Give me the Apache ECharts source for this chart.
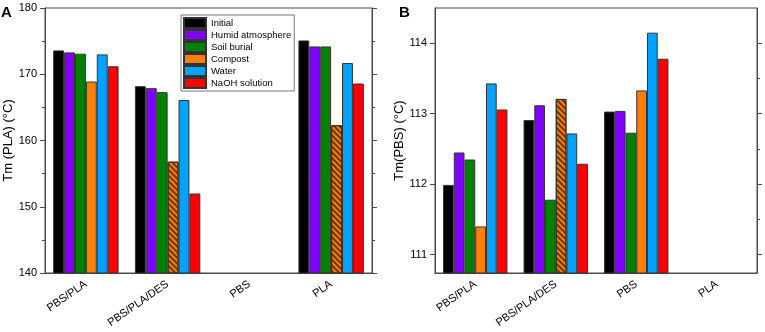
<!DOCTYPE html>
<html>
<head>
<meta charset="utf-8">
<script src="https://cdn.jsdelivr.net/npm/echarts@6/dist/echarts.min.js"></script>
<style>
  html, body { margin: 0; padding: 0; background: #fff; }
  #chart { width: 765px; height: 332px; }
</style>
</head>
<body>
<div id="chart"></div>
<script>
const categories = ['PBS/PLA', 'PBS/PLA/DES', 'PBS', 'PLA'];
const conditions = ['Initial', 'Humid atmosphere', 'Soil burial', 'Compost', 'Water', 'NaOH solution'];

// Panel A: Tm (PLA), one array per condition, in category order
const plaInitial = [173.6, 168.2, null, 175.1];
const plaHumid   = [173.3, 167.9, null, 174.2];
const plaSoil    = [173.1, 167.3, null, 174.2];
const plaCompost = [168.9, 156.8, null, 162.3];
const plaWater   = [173.0, 166.1, null, 171.7];
const plaNaOH    = [171.2, 152.0, null, 168.6];

// Panel B: Tm (PBS)
const pbsInitial = [111.99, 112.91, 113.03, null];
const pbsHumid   = [112.45, 113.12, 113.04, null];
const pbsSoil    = [112.35, 111.78, 112.73, null];
const pbsCompost = [111.40, 113.21, 113.33, null];
const pbsWater   = [113.43, 112.72, 114.15, null];
const pbsNaOH    = [113.06, 112.29, 113.78, null];

// compost bars drawn hatched
const hatchedA = ['PBS/PLA/DES', 'PLA'];
const hatchedB = ['PBS/PLA/DES'];

const ticksA = [140, 150, 160, 170, 180];
const ticksBMajor = [111, 112, 113, 114];
const ticksBMinor = [111.5, 112.5, 113.5];

const colors = ['#000000', '#8000ff', '#008000', '#ff8000', '#00a2ff', '#ff0000'];
const font = 'Liberation Sans, Arial, sans-serif';
const axisColor = '#4a4a4a';

const hatch = {
  symbol: 'rect',
  symbolSize: 1,
  dashArrayX: [1, 0],
  dashArrayY: [2, 2],
  rotation: Math.PI / 4,
  color: 'rgba(70, 35, 0, 0.8)'
};

function barData(values, hatched) {
  return values.map((v, i) => {
    if (hatched && hatched.indexOf(categories[i]) >= 0) {
      return { value: v, itemStyle: { decal: hatch } };
    }
    return v;
  });
}

const seriesA = [plaInitial, plaHumid, plaSoil, plaCompost, plaWater, plaNaOH];
const seriesB = [pbsInitial, pbsHumid, pbsSoil, pbsCompost, pbsWater, pbsNaOH];

const grids = [
  { left: 45, right: 393, top: 8, bottom: 59 },
  { left: 435, right: 8, top: 8, bottom: 59 }
];

function xAxis(gi) {
  return {
    type: 'category', gridIndex: gi, data: categories,
    axisLine: { lineStyle: { color: axisColor, width: 1 } },
    axisTick: { show: false },
    axisLabel: { interval: 0, rotate: 35, fontSize: 11, fontFamily: font, color: '#000', margin: 10 }
  };
}

const yAxes = [
  // A left
  {
    type: 'value', gridIndex: 0, min: 140, max: 180, interval: 10,
    name: 'Tm (PLA) (°C)', nameLocation: 'middle', nameGap: 25,
    nameTextStyle: { fontSize: 13, fontFamily: font, color: '#000' },
    axisLine: { show: true, lineStyle: { color: axisColor } },
    axisTick: { show: true, length: 5, lineStyle: { color: axisColor } },
    minorTick: { show: true, splitNumber: 2, length: 3, lineStyle: { color: axisColor } },
    axisLabel: { fontSize: 11, fontFamily: font, color: '#000', margin: 8,
      customValues: ticksA },
    splitLine: { show: false }
  },
  // A right
  {
    type: 'value', gridIndex: 0, min: 140, max: 180, interval: 10, position: 'right',
    axisLine: { show: true, lineStyle: { color: axisColor } },
    axisTick: { show: true, length: 5, lineStyle: { color: axisColor } },
    minorTick: { show: true, splitNumber: 2, length: 3, lineStyle: { color: axisColor } },
    axisLabel: { show: false },
    splitLine: { show: false }
  },
  // B left major
  {
    type: 'value', gridIndex: 1, min: 110.74, max: 114.5,
    name: 'Tm(PBS) (°C)', nameLocation: 'middle', nameGap: 29,
    nameTextStyle: { fontSize: 13, fontFamily: font, color: '#000' },
    axisLine: { show: true, lineStyle: { color: axisColor } },
    axisTick: { show: true, length: 5, customValues: ticksBMajor, lineStyle: { color: axisColor } },
    axisLabel: { fontSize: 11, fontFamily: font, color: '#000', margin: 8, customValues: ticksBMajor },
    splitLine: { show: false }
  },
  // B left minor
  {
    type: 'value', gridIndex: 1, min: 110.74, max: 114.5,
    axisLine: { show: false },
    axisTick: { show: true, length: 3, customValues: ticksBMinor, lineStyle: { color: axisColor } },
    axisLabel: { show: false, customValues: ticksBMinor },
    splitLine: { show: false }
  },
  // B right major
  {
    type: 'value', gridIndex: 1, min: 110.74, max: 114.5, position: 'right',
    axisLine: { show: true, lineStyle: { color: axisColor } },
    axisTick: { show: true, length: 5, customValues: ticksBMajor, lineStyle: { color: axisColor } },
    axisLabel: { show: false, customValues: ticksBMajor },
    splitLine: { show: false }
  },
  // B right minor
  {
    type: 'value', gridIndex: 1, min: 110.74, max: 114.5, position: 'right',
    axisLine: { show: false },
    axisTick: { show: true, length: 3, customValues: ticksBMinor, lineStyle: { color: axisColor } },
    axisLabel: { show: false, customValues: ticksBMinor },
    splitLine: { show: false }
  }
];

const series = [];
seriesA.forEach((vals, i) => {
  series.push({
    name: conditions[i], type: 'bar', xAxisIndex: 0, yAxisIndex: 0,
    barGap: '0%', barCategoryGap: '20%',
    itemStyle: { color: colors[i], borderColor: '#333', borderWidth: 1 },
    data: barData(vals, i === 3 ? hatchedA : null)
  });
});
seriesB.forEach((vals, i) => {
  series.push({
    name: conditions[i], type: 'bar', xAxisIndex: 1, yAxisIndex: 2,
    barGap: '0%', barCategoryGap: '20%',
    itemStyle: { color: colors[i], borderColor: '#333', borderWidth: 1 },
    data: barData(vals, i === 3 ? hatchedB : null)
  });
});

const chart = echarts.init(document.getElementById('chart'), null, { renderer: 'canvas' });
chart.setOption({
  animation: false,
  backgroundColor: '#fff',
  title: [
    { text: 'A', left: 1, top: 5, padding: 0, textStyle: { fontSize: 15, fontWeight: 'bold', fontFamily: font, color: '#000' } },
    { text: 'B', left: 399, top: 5, padding: 0, textStyle: { fontSize: 15, fontWeight: 'bold', fontFamily: font, color: '#000' } }
  ],
  legend: {
    data: conditions, orient: 'vertical', left: 181, top: 15,
    itemWidth: 22, itemHeight: 10, itemGap: 0,
    padding: [2, 3, 2, 2],
    borderColor: '#777', borderWidth: 1,
    icon: 'rect',
    textStyle: { fontSize: 9.5, lineHeight: 10, fontFamily: font, color: '#000' }
  },
  grid: grids.map(g => Object.assign({ show: true, borderColor: axisColor, borderWidth: 1, containLabel: false }, g)),
  xAxis: [xAxis(0), xAxis(1)],
  yAxis: yAxes,
  series: series
});
window.addEventListener('resize', () => chart.resize());
</script>
</body>
</html>
